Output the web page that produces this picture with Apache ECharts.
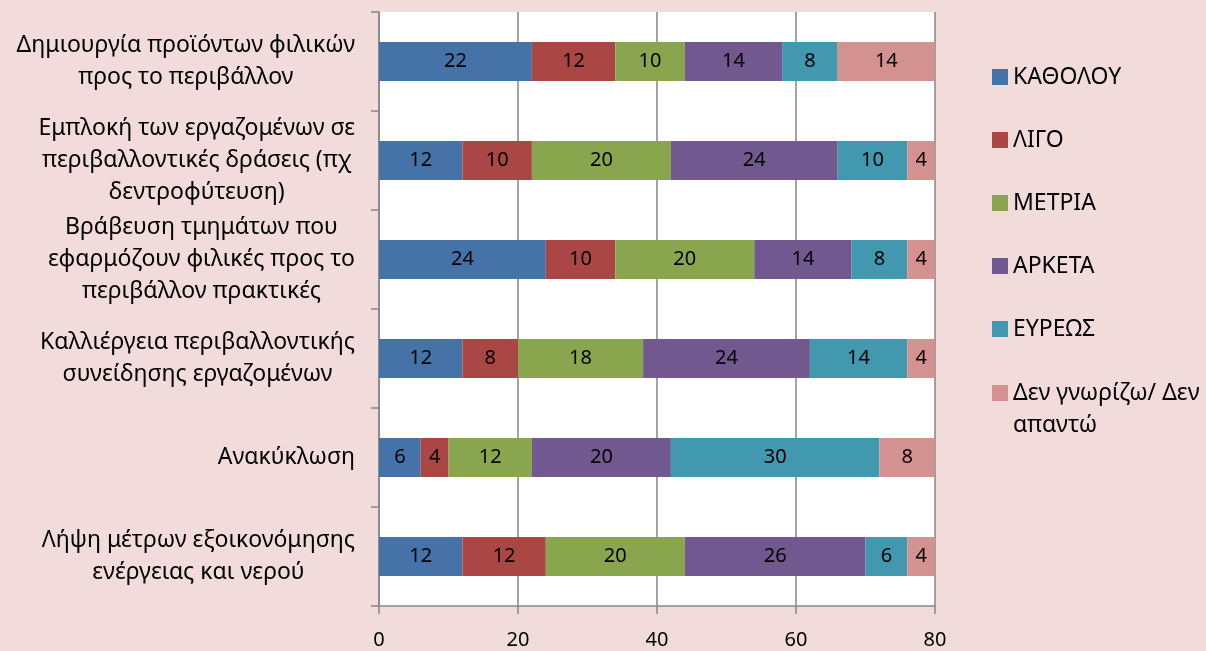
<!DOCTYPE html>
<html>
<head>
<meta charset="utf-8">
<script src="https://cdn.jsdelivr.net/npm/echarts@6/dist/echarts.min.js"></script>
<style>
  html, body { margin: 0; padding: 0; background: #F2DCDB; }
  #chart { width: 1206px; height: 651px; }
</style>
</head>
<body>
<div id="chart"></div>
<script>
// Survey categories (top to bottom), line breaks as printed on the axis
const categories = [
  'Δημιουργία προϊόντων φιλικών\nπρος το περιβάλλον',
  'Εμπλοκή των εργαζομένων σε\nπεριβαλλοντικές δράσεις (πχ\nδεντροφύτευση)',
  'Βράβευση τμημάτων που\nεφαρμόζουν φιλικές προς το\nπεριβάλλον πρακτικές',
  'Καλλιέργεια περιβαλλοντικής\nσυνείδησης εργαζομένων',
  'Ανακύκλωση',
  'Λήψη μέτρων εξοικονόμησης\nενέργειας και νερού'
];

const seriesNames = ['ΚΑΘΟΛΟΥ', 'ΛΙΓΟ', 'ΜΕΤΡΙΑ', 'ΑΡΚΕΤΑ', 'ΕΥΡΕΩΣ', 'Δεν γνωρίζω/ Δεν απαντώ'];

const katholou = [22, 12, 24, 12, 6, 12];
const ligo     = [12, 10, 10, 8, 4, 12];
const metria   = [10, 20, 20, 18, 12, 20];
const arketa   = [14, 24, 14, 24, 20, 26];
const evreos   = [8, 10, 8, 14, 30, 6];
const denXero  = [14, 4, 4, 4, 8, 4];

const xTicks = [0, 20, 40, 60, 80];

const colors = ['#4572A7', '#AA4643', '#89A54E', '#71588F', '#4198AF', '#D39290'];
const seriesData = [katholou, ligo, metria, arketa, evreos, denXero];

const FONT = 'Noto Sans';
const TEXT_SIZE = 23;
const NUM_SIZE = 20;
const LINE_H = 32;

const chart = echarts.init(document.getElementById('chart'));

const series = seriesNames.map((name, i) => ({
  name: name,
  type: 'bar',
  stack: 'total',
  barWidth: 39,
  data: seriesData[i],
  itemStyle: { color: colors[i] },
  label: {
    show: true,
    position: 'inside',
    color: '#000',
    fontFamily: FONT,
    fontSize: NUM_SIZE
  }
}));

const legendBase = {
  orient: 'vertical',
  left: 992,
  padding: 0,
  itemWidth: 16,
  itemHeight: 16,
  itemGap: 31,
  icon: 'rect',
  textStyle: { fontFamily: FONT, fontSize: TEXT_SIZE, color: '#000', lineHeight: LINE_H }
};

chart.setOption({
  backgroundColor: '#F2DCDB',
  animation: false,
  grid: {
    left: 379,
    top: 12,
    width: 556,
    height: 594,
    show: true,
    backgroundColor: '#FFFFFF',
    borderWidth: 0
  },
  legend: [
    Object.assign({}, legendBase, { top: 61, data: seriesNames.slice(0, 5) }),
    // the long entry wraps onto a second line, first line level with its swatch
    Object.assign({}, legendBase, {
      top: 345,
      data: seriesNames.slice(5),
      formatter: () => ' \nΔεν γνωρίζω/ Δεν\nαπαντώ'
    })
  ],
  xAxis: {
    type: 'value',
    min: 0,
    max: 80,
    interval: 20,
    axisLine: { show: true, lineStyle: { color: '#868686', width: 1.5 } },
    axisTick: { show: true, length: 8, lineStyle: { color: '#868686', width: 1.5 } },
    splitLine: { show: true, lineStyle: { color: '#868686', width: 1.5 } },
    axisLabel: {
      margin: 24,
      color: '#000',
      fontFamily: FONT,
      fontSize: NUM_SIZE,
      formatter: v => xTicks.includes(v) ? String(v) : ''
    }
  },
  yAxis: {
    type: 'category',
    inverse: true,
    data: categories,
    axisLine: { show: true, lineStyle: { color: '#868686', width: 1.5 } },
    axisTick: { show: true, length: 8, alignWithLabel: false, lineStyle: { color: '#868686', width: 1.5 } },
    splitLine: { show: false },
    axisLabel: {
      margin: 24,
      align: 'right',
      color: '#000',
      fontFamily: FONT,
      fontSize: TEXT_SIZE,
      lineHeight: LINE_H,
      formatter: v => v.split('\n').map(l => '{c|' + l + '}').join('\n'),
      rich: {
        c: { align: 'center', fontFamily: FONT, fontSize: TEXT_SIZE, lineHeight: LINE_H, color: '#000' }
      }
    }
  },
  series: series
});
</script>
</body>
</html>
